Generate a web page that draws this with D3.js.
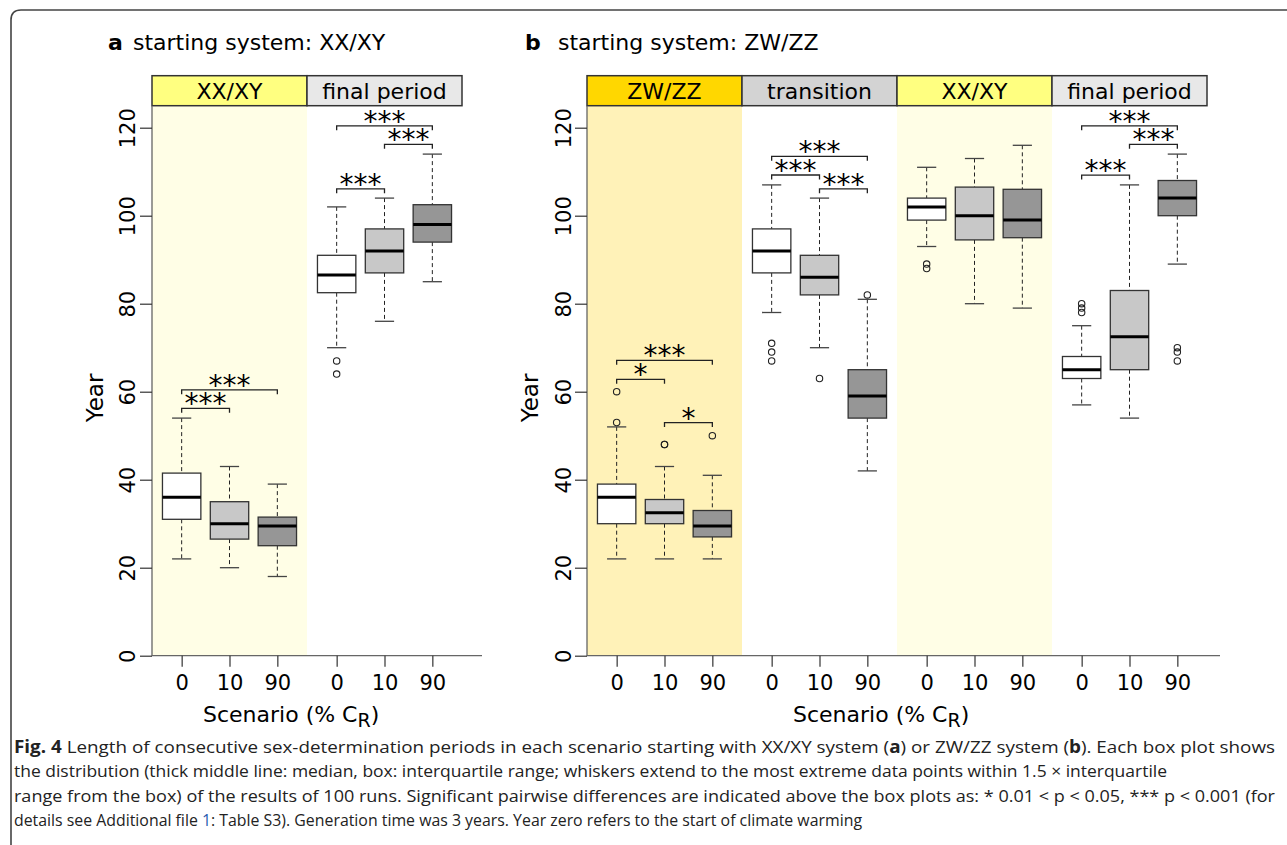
<!DOCTYPE html>
<html>
<head>
<meta charset="utf-8">
<script src="https://cdn.jsdelivr.net/npm/d3@7"></script>
<style>
  body { margin: 0; background: #fff; }
  svg { display: block; font-family: "DejaVu Sans", sans-serif; }
</style>
</head>
<body>
<svg id="chart" width="1287" height="845"></svg>
<script>
// scenarios (% C_R), same three in every period
var scenarios = ["0", "10", "90"];
var yTicks = [0, 20, 40, 60, 80, 100, 120];

// panel a: starting system XX/XY  (order: period x scenario)
var periodsA = ["XX/XY", "final period"];
var lowA  = [22, 20, 18, 70, 76, 85];
var q1A   = [31, 26.5, 25, 82.5, 87, 94];
var medA  = [36, 30, 29.5, 86.5, 92, 98];
var q3A   = [41.5, 35, 31.5, 91, 97, 102.5];
var highA = [54, 43, 39, 102, 104, 114];
var outA  = [[], [], [], [67, 64], [], []];
var sigA = [
  {period: 0, from: "0", to: "10", at: 56.2, label: "***"},
  {period: 0, from: "0", to: "90", at: 60.4, label: "***"},
  {period: 1, from: "0", to: "10", at: 106.1, label: "***"},
  {period: 1, from: "10", to: "90", at: 116.2, label: "***"},
  {period: 1, from: "0", to: "90", at: 120.4, label: "***"}
];

// panel b: starting system ZW/ZZ
var periodsB = ["ZW/ZZ", "transition", "XX/XY", "final period"];
var lowB  = [22, 22, 22, 78, 70, 42, 93, 80, 79, 57, 54, 89];
var q1B   = [30, 30, 27, 87, 82, 54, 99, 94.5, 95, 63, 65, 100];
var medB  = [36, 32.5, 29.5, 92, 86, 59, 102, 100, 99, 65, 72.5, 104];
var q3B   = [39, 35.5, 33, 97, 91, 65, 104, 106.5, 106, 68, 83, 108];
var highB = [52, 43, 41, 107, 104, 81, 111, 113, 116, 75, 107, 114];
var outB  = [[60, 53], [48, 48], [50], [71, 69, 67], [63], [82],
             [89, 88], [], [], [80, 79, 78], [], [70, 69, 67]];
var sigB = [
  {period: 0, from: "0", to: "10", at: 62.8, label: "*"},
  {period: 0, from: "0", to: "90", at: 67.1, label: "***"},
  {period: 0, from: "10", to: "90", at: 52.95, label: "*"},
  {period: 1, from: "0", to: "10", at: 109.25, label: "***"},
  {period: 1, from: "10", to: "90", at: 106.1, label: "***"},
  {period: 1, from: "0", to: "90", at: 113.5, label: "***"},
  {period: 3, from: "0", to: "10", at: 109.2, label: "***"},
  {period: 3, from: "10", to: "90", at: 116.2, label: "***"},
  {period: 3, from: "0", to: "90", at: 120.4, label: "***"}
];

// styles
var boxFill = {"0": "#ffffff", "10": "#c8c8c8", "90": "#969696"};
var headFill = {"XX/XY": "#ffff80", "final period": "#e8e8e8", "ZW/ZZ": "#ffd700", "transition": "#d3d3d3"};
var bgFill = {"XX/XY": "#fffee6", "ZW/ZZ": "#fff2b8"};

var svg = d3.select("#chart");

// frame of the figure (rounded top-left corner)
svg.append("path")
  .attr("d", "M11,845 V20 Q11,10 21,10 H1287")
  .attr("fill", "none").attr("stroke", "#444").attr("stroke-width", 1.6);

var headTop = 75.7, headH = 30, plotTop = 105.7, plotBottom = 655.7;
var y = d3.scaleLinear().domain([0, 120]).range([plotBottom, 127.7]);
var regionW = 155;
var inner = d3.scalePoint().domain(scenarios).range([0, regionW]).padding(0.62);
var boxW = 38.4;

function drawPanel(cfg) {
  var g = svg.append("g");
  var regX = d3.scaleBand().domain(d3.range(cfg.periods.length))
    .range([cfg.x0, cfg.x0 + regionW * cfg.periods.length]);

  // background shading of the periods
  g.selectAll("rect.bg").data(cfg.periods).enter().append("rect")
    .attr("x", function(d, i) { return regX(i); })
    .attr("y", plotTop)
    .attr("width", regionW)
    .attr("height", plotBottom - plotTop)
    .attr("fill", function(d) { return bgFill[d] || "none"; });

  // header strip
  g.selectAll("rect.head").data(cfg.periods).enter().append("rect")
    .attr("x", function(d, i) { return regX(i); })
    .attr("y", headTop)
    .attr("width", regionW)
    .attr("height", headH)
    .attr("fill", function(d) { return headFill[d]; })
    .attr("stroke", "#333").attr("stroke-width", 1.5);
  g.selectAll("text.head").data(cfg.periods).enter().append("text")
    .attr("x", function(d, i) { return regX(i) + regionW / 2; })
    .attr("y", 99.3)
    .attr("text-anchor", "middle")
    .style("font-size", "22px")
    .text(function(d) { return d; });

  // L-shaped box
  g.append("path")
    .attr("d", "M" + cfg.x0 + "," + plotTop + "V" + plotBottom + "H" + cfg.xEnd)
    .attr("fill", "none").attr("stroke", "#666").attr("stroke-width", 1.3);

  // y axis
  var ya = g.append("g").attr("transform", "translate(" + cfg.x0 + ",0)")
    .call(d3.axisLeft(y).tickValues(yTicks).tickSize(12));
  ya.select(".domain").remove();
  ya.selectAll("line").attr("stroke", "#333").attr("stroke-width", 1.2);
  ya.selectAll("text")
    .attr("transform", "rotate(-90)")
    .attr("x", 0).attr("y", -cfg.tickGap).attr("dy", null)
    .attr("text-anchor", "middle")
    .attr("fill", "#000")
    .style("font-size", "21px").style("font-family", "DejaVu Sans");

  // x axis, one per period
  cfg.periods.forEach(function(p, i) {
    var xa = g.append("g").attr("transform", "translate(" + regX(i) + "," + plotBottom + ")")
      .call(d3.axisBottom(inner).tickSize(11).tickPadding(8));
    xa.select(".domain").remove();
    xa.selectAll("line").attr("stroke", "#333").attr("stroke-width", 1.2);
    xa.selectAll("text").attr("fill", "#000")
      .style("font-size", "21px").style("font-family", "DejaVu Sans");
  });

  // boxes
  var rows = [];
  cfg.periods.forEach(function(p, i) {
    scenarios.forEach(function(s, j) {
      var k = i * 3 + j;
      rows.push({cx: regX(i) + inner(s), scen: s, lo: cfg.low[k], q1: cfg.q1[k], med: cfg.med[k],
                 q3: cfg.q3[k], hi: cfg.high[k], out: cfg.out[k]});
    });
  });
  var bx = g.selectAll("g.box").data(rows).enter().append("g");
  // whiskers
  bx.append("line")
    .attr("x1", function(d) { return d.cx; }).attr("x2", function(d) { return d.cx; })
    .attr("y1", function(d) { return y(d.hi); }).attr("y2", function(d) { return y(d.q3); })
    .attr("stroke", "#222").attr("stroke-dasharray", "4,3");
  bx.append("line")
    .attr("x1", function(d) { return d.cx; }).attr("x2", function(d) { return d.cx; })
    .attr("y1", function(d) { return y(d.q1); }).attr("y2", function(d) { return y(d.lo); })
    .attr("stroke", "#222").attr("stroke-dasharray", "4,3");
  ["hi", "lo"].forEach(function(key) {
    bx.append("line")
      .attr("x1", function(d) { return d.cx - boxW / 4; }).attr("x2", function(d) { return d.cx + boxW / 4; })
      .attr("y1", function(d) { return y(d[key]); }).attr("y2", function(d) { return y(d[key]); })
      .attr("stroke", "#444").attr("stroke-width", 1.3);
  });
  bx.append("rect")
    .attr("x", function(d) { return d.cx - boxW / 2; })
    .attr("y", function(d) { return y(d.q3); })
    .attr("width", boxW)
    .attr("height", function(d) { return y(d.q1) - y(d.q3); })
    .attr("fill", function(d) { return boxFill[d.scen]; })
    .attr("stroke", "#333").attr("stroke-width", 1.3);
  bx.append("line")
    .attr("x1", function(d) { return d.cx - boxW / 2; }).attr("x2", function(d) { return d.cx + boxW / 2; })
    .attr("y1", function(d) { return y(d.med); }).attr("y2", function(d) { return y(d.med); })
    .attr("stroke", "#000").attr("stroke-width", 3);
  bx.each(function(d) {
    d3.select(this).selectAll("circle").data(d.out).enter().append("circle")
      .attr("cx", d.cx).attr("cy", function(v) { return y(v); })
      .attr("r", 3.2).attr("fill", "none").attr("stroke", "#222").attr("stroke-width", 1.1);
  });

  // significance brackets
  var sg = g.selectAll("g.sig").data(cfg.sig).enter().append("g");
  sg.append("path")
    .attr("d", function(d) {
      var x1 = regX(d.period) + inner(d.from), x2 = regX(d.period) + inner(d.to);
      var yy = y(d.at), yt = y(d.at - 1);
      return "M" + x1 + "," + yt + "V" + yy + "H" + x2 + "V" + yt;
    })
    .attr("fill", "none").attr("stroke", "#222").attr("stroke-width", 1.3);
  sg.append("text")
    .attr("x", function(d) { return regX(d.period) + (inner(d.from) + inner(d.to)) / 2; })
    .attr("y", function(d) { return y(d.at) + 5; })
    .attr("text-anchor", "middle")
    .style("font-size", "28px")
    .text(function(d) { return d.label; });

  // axis titles
  g.append("text")
    .attr("transform", "translate(" + cfg.yLabX + ",398) rotate(-90)")
    .attr("text-anchor", "middle")
    .style("font-size", "23px")
    .text("Year");
  var xt = g.append("text").attr("x", cfg.xLabX).attr("y", 722).style("font-size", "22px");
  xt.append("tspan").text("Scenario (% C");
  xt.append("tspan").attr("dy", 5).style("font-size", "19px").text("R");
  xt.append("tspan").attr("dy", -5).text(")");

  // panel title
  var tt = g.append("text").attr("y", 50).style("font-size", "22px");
  tt.append("tspan").attr("x", cfg.titleX).style("font-weight", "bold").text(cfg.letter);
  tt.append("tspan").attr("x", cfg.titleX2).text(cfg.title);
}

drawPanel({periods: periodsA, low: lowA, q1: q1A, med: medA, q3: q3A, high: highA, out: outA, sig: sigA,
  x0: 152, xEnd: 482, tickGap: 17, yLabX: 103, xLabX: 203,
  letter: "a", title: "starting system: XX/XY", titleX: 108, titleX2: 133});
drawPanel({periods: periodsB, low: lowB, q1: q1B, med: medB, q3: q3B, high: highB, out: outB, sig: sigB,
  x0: 587, xEnd: 1220, tickGap: 16, yLabX: 538, xLabX: 793,
  letter: "b", title: "starting system: ZW/ZZ", titleX: 525, titleX2: 558});

// caption
var capFont = '"Liberation Sans Narrow", "Open Sans", sans-serif';
var capLines = [
  {y: 753, w: 1261, parts: [["Fig. 4", "b"], ["  Length of consecutive sex-determination periods in each scenario starting with XX/XY system ("], ["a", "b"], [") or ZW/ZZ system ("], ["b", "b"], ["). Each box plot shows"]]},
  {y: 777, w: 1153, parts: [["the distribution (thick middle line: median, box: interquartile range; whiskers extend to the most extreme data points within 1.5 \u00d7 interquartile"]]},
  {y: 802, w: 1261, parts: [["range from the box) of the results of 100 runs. Significant pairwise differences are indicated above the box plots as: * 0.01 < p < 0.05, *** p < 0.001 (for"]]},
  {y: 826, w: 848, parts: [["details see Additional file "], ["1", "blue"], [": Table S3). Generation time was 3 years. Year zero refers to the start of climate warming"]]}
];
capLines.forEach(function(line) {
  var t = svg.append("text").attr("x", 14).attr("y", line.y)
    .attr("textLength", line.w).attr("lengthAdjust", "spacingAndGlyphs")
    .style("font-family", capFont).style("font-size", "17px").attr("fill", "#222");
  line.parts.forEach(function(p) {
    var s = t.append("tspan").text(p[0]);
    if (p[1] === "b") s.style("font-weight", "bold");
    if (p[1] === "blue") s.attr("fill", "#2a5db0");
  });
});
</script>
</body>
</html>
